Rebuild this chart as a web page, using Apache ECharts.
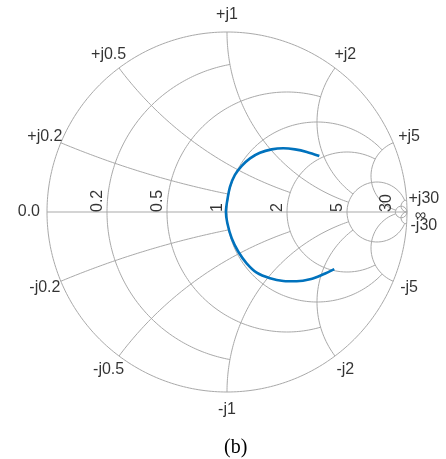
<!DOCTYPE html>
<html>
<head>
<meta charset="utf-8">
<script src="https://cdn.jsdelivr.net/npm/echarts@6/dist/echarts.min.js"></script>
<style>
  html, body { margin: 0; padding: 0; background: #ffffff; }
  #chart { width: 446px; height: 459px; }
</style>
</head>
<body>
<div id="chart"></div>
<script>
// Smith chart grid values (MATLAB-style): circle value and where its arc stops
const rValues = [0.2, 0.5, 1, 2, 5, 30];
const rLimits = [1, 2, 5, 5, 30, Infinity];
const rLabels = ['0.2', '0.5', '1', '2', '5', '30'];
const xValues = [0.2, 0.5, 1, 2, 5, 30];
const xLimits = [1, 2, 5, 5, 30, Infinity];
const xLabelsPos = ['+j0.2', '+j0.5', '+j1', '+j2', '+j5', '+j30'];
const xLabelsNeg = ['-j0.2', '-j0.5', '-j1', '-j2', '-j5', '-j30'];

// Reflection coefficient locus (real / imaginary parts of Γ)
const gammaRe = [0.513, 0.443, 0.378, 0.313, 0.248, 0.183, 0.128, 0.082, 0.044, 0.017, 0.002, -0.006,
                 0.002, 0.026, 0.063, 0.109, 0.165, 0.239, 0.313, 0.387, 0.461, 0.535, 0.596];
const gammaIm = [0.311, 0.334, 0.348, 0.354, 0.348, 0.329, 0.298, 0.256, 0.206, 0.141, 0.067, 0.002,
                 -0.063, -0.146, -0.221, -0.285, -0.337, -0.368, -0.383, -0.385, -0.374, -0.346, -0.317];

const GRID_COLOR = '#a9a9a9';
const TEXT_FONT = '"Liberation Sans", Arial, sans-serif';

// Γ = (z - 1) / (z + 1), z = r + jx
function gammaOf(r, x) {
  if (!isFinite(r) || !isFinite(x)) return [1, 0];
  const den = (r + 1) * (r + 1) + x * x;
  return [(r * r - 1 + x * x) / den, (2 * x) / den];
}
function normAngle(a) {
  const t = 2 * Math.PI;
  return ((a % t) + t) % t;
}

// constant-resistance circle, drawn for |x| <= limit
function resistanceCurve(r, limit) {
  const c = r / (r + 1), rho = 1 / (r + 1);
  let phiL = 0;
  if (isFinite(limit)) {
    const g = gammaOf(r, limit);
    phiL = Math.atan2(g[1], g[0] - c);
  }
  const pts = [];
  const N = 360;
  for (let i = 0; i <= N; i++) {
    const phi = phiL + (2 * Math.PI - 2 * phiL) * i / N;
    pts.push([c + rho * Math.cos(phi), rho * Math.sin(phi)]);
  }
  return pts;
}

// constant-reactance arc (x > 0), drawn for 0 <= r <= limit; sign flips it
function reactanceCurve(x, limit, sign) {
  const cy = 1 / x, rho = 1 / x;
  const g0 = gammaOf(0, x);
  const gL = gammaOf(limit, x);
  const a0 = normAngle(Math.atan2(g0[1] - cy, g0[0] - 1));
  const aL = normAngle(Math.atan2(gL[1] - cy, gL[0] - 1));
  const pts = [];
  const N = 200;
  for (let i = 0; i <= N; i++) {
    const a = a0 + (aL - a0) * i / N;
    pts.push([1 + rho * Math.cos(a), sign * (cy + rho * Math.sin(a))]);
  }
  return pts;
}

function gridLine(data) {
  return {
    type: 'line', data: data, showSymbol: false, silent: true, clip: false,
    lineStyle: { color: GRID_COLOR, width: 1 }, z: 1, animation: false
  };
}

const series = [];
// outer boundary (r = 0) and real axis
series.push(gridLine(resistanceCurve(0, Infinity)));
series.push(gridLine([[-1, 0], [1, 0]]));
rValues.forEach((r, i) => series.push(gridLine(resistanceCurve(r, rLimits[i]))));
xValues.forEach((x, i) => {
  series.push(gridLine(reactanceCurve(x, xLimits[i], 1)));
  series.push(gridLine(reactanceCurve(x, xLimits[i], -1)));
});

// measured locus
series.push({
  type: 'line',
  data: gammaRe.map((v, i) => [v, gammaIm[i]]),
  showSymbol: false, smooth: 0.3, silent: true,
  lineStyle: { color: '#0072BD', width: 2.6 },
  z: 5, animation: false
});

// resistance labels, rotated, sitting just left of each circle on the axis
series.push({
  type: 'scatter', symbolSize: 0, silent: true, animation: false, z: 6, clip: false,
  data: rValues.map((r, i) => ({ value: [(r - 1) / (r + 1), 0], name: rLabels[i] })),
  label: {
    show: true, formatter: p => p.name, rotate: 90,
    align: 'left', verticalAlign: 'bottom', offset: [0, -1],
    color: '#000', fontSize: 16, fontFamily: TEXT_FONT
  }
});

// reactance labels around the rim
const LABEL_R = 1.096;
const rimData = [];
xValues.forEach((x, i) => {
  const g = gammaOf(0, x);
  rimData.push({ value: [g[0] * LABEL_R, g[1] * LABEL_R], name: xLabelsPos[i] });
  rimData.push({ value: [g[0] * LABEL_R, -g[1] * LABEL_R], name: xLabelsNeg[i] });
});
rimData.push({ value: [-1, 0], name: '0.0', label: { position: 'left', distance: 7 } });
rimData.push({ value: [1.075, -0.022], name: '∞' });
series.push({
  type: 'scatter', symbolSize: 0, silent: true, animation: false, z: 6, clip: false,
  data: rimData,
  labelLayout: { hideOverlap: false },
  label: {
    show: true, formatter: p => p.name, position: 'inside',
    color: '#000', fontSize: 16, fontFamily: TEXT_FONT
  }
});

const chart = echarts.init(document.getElementById('chart'), null, { renderer: 'canvas' });
chart.setOption({
  animation: false,
  backgroundColor: '#ffffff',
  grid: { left: 47, top: 32, width: 360, height: 360, containLabel: false },
  xAxis: { type: 'value', min: -1, max: 1, show: false },
  yAxis: { type: 'value', min: -1, max: 1, show: false },
  graphic: [{
    type: 'text', left: 224, top: 438,
    style: { text: '(b)', fontSize: 20, fontFamily: '"Liberation Serif", "Times New Roman", serif', fill: '#000' }
  }],
  series: series
});
</script>
</body>
</html>
